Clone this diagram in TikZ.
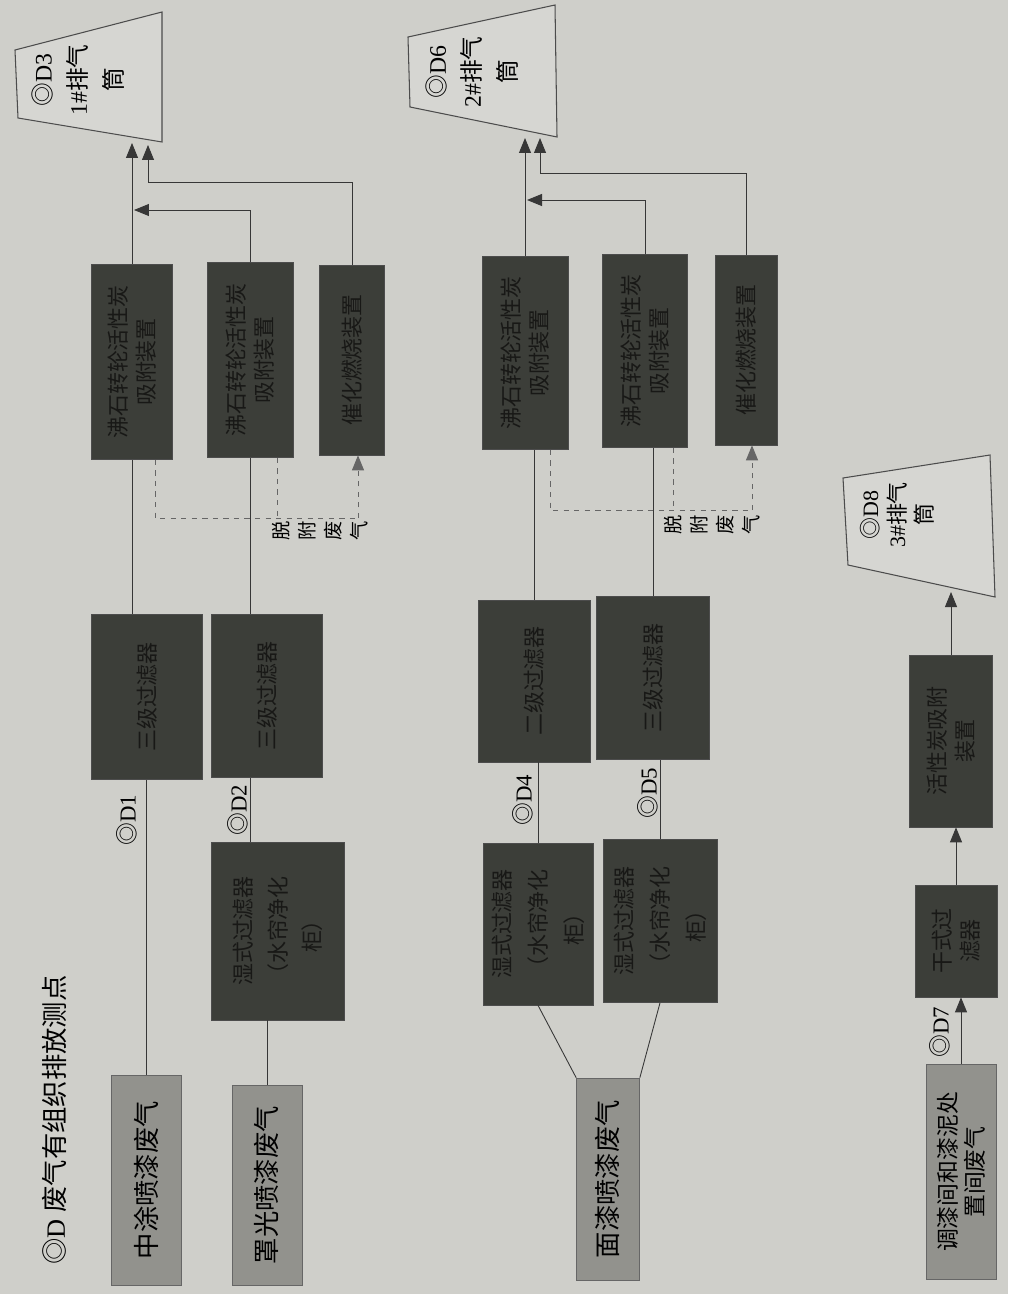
\documentclass[tikz,border=0pt]{standalone}
\usepackage{fontspec}
\setmainfont{Liberation Serif}
\newfontfamily\cjk{Noto Sans CJK SC}
\usetikzlibrary{arrows.meta}
\definecolor{paper}{RGB}{207,207,202}
\definecolor{stackfill}{RGB}{214,214,210}
\definecolor{srcgray}{RGB}{146,146,141}
\definecolor{unitdark}{RGB}{60,62,57}
\definecolor{unitink}{RGB}{24,24,22}
\definecolor{wire}{RGB}{55,55,55}
\newcommand{\mk}{{\cjk ◎}}

\begin{document}
\begin{tikzpicture}[x=0.02cm, y=-0.02cm,
  source/.style={rotate=90, draw=black!60, fill=srcgray, inner sep=0pt, align=center, font=\cjk\fontsize{15}{19}\selectfont},
  unit/.style={rotate=90, draw=black!70, fill=unitdark, text=unitink, inner sep=0pt, align=center, font=\cjk\fontsize{12.5}{16}\selectfont},
  ptlabel/.style={rotate=90, inner sep=1pt, font=\fontsize{13}{15}\selectfont},
  stacktext/.style={rotate=90, align=center, inner sep=0pt, font=\fontsize{13.5}{20}\selectfont},
  desorbtext/.style={rotate=90, align=center, inner sep=0pt, font=\cjk\fontsize{11}{14.8}\selectfont},
  flow/.style={draw=wire, line width=0.5pt},
  arr/.style={flow, -{Triangle[length=0.3cm,width=0.24cm]}},
  desorb/.style={draw=black!60, dashed, line width=0.5pt},
  stackline/.style={draw=black!70, line width=0.6pt, fill=stackfill}
]
\fill[paper] (0,0) rectangle (1008,1294);
\useasboundingbox (0,0) rectangle (1008,1294);

% legend
\node[rotate=90, font=\fontsize{15}{18}\selectfont] (legend) at (55,1120) {\mk D {\cjk 废气有组织排放测点}};

% waste gas sources
\node[source, minimum width=4.2cm, minimum height=1.4cm] (srcA) at (146,1180) {中涂喷漆废气};
\node[source, minimum width=4.0cm, minimum height=1.4cm] (srcB) at (267,1185) {罩光喷漆废气};
\node[source, minimum width=4.04cm, minimum height=1.26cm] (srcC) at (608,1179) {面漆喷漆废气};
\node[source, minimum width=4.3cm, minimum height=1.4cm, font=\cjk\fontsize{13}{15.5}\selectfont] (srcD) at (961,1172) {调漆间和漆泥处\\置间废气};

% wet filters
\node[unit, minimum width=3.56cm, minimum height=2.66cm, font=\cjk\fontsize{12.5}{19.5}\selectfont] (wetB) at (278,931) {湿式过滤器\\（水帘净化\\柜）};
\node[unit, minimum width=3.24cm, minimum height=2.2cm, font=\cjk\fontsize{12.5}{20.5}\selectfont] (wetC1) at (538,924) {湿式过滤器\\（水帘净化\\柜）};
\node[unit, minimum width=3.26cm, minimum height=2.28cm, font=\cjk\fontsize{12.5}{20.5}\selectfont] (wetC2) at (660,921) {湿式过滤器\\（水帘净化\\柜）};

% dry filters
\node[unit, minimum width=3.3cm, minimum height=2.22cm] (fltA) at (147,697) {三级过滤器};
\node[unit, minimum width=3.26cm, minimum height=2.22cm] (fltB) at (267,696) {三级过滤器};
\node[unit, minimum width=3.24cm, minimum height=2.24cm] (fltC1) at (534,681) {二级过滤器};
\node[unit, minimum width=3.26cm, minimum height=2.26cm] (fltC2) at (653,678) {三级过滤器};

% zeolite / catalytic units
\node[unit, minimum width=3.9cm, minimum height=1.62cm] (zeoA) at (132,362) {沸石转轮活性炭\\吸附装置};
\node[unit, minimum width=3.9cm, minimum height=1.72cm] (zeoB) at (250,360) {沸石转轮活性炭\\吸附装置};
\node[unit, minimum width=3.8cm, minimum height=1.3cm] (catA) at (352,360) {催化燃烧装置};
\node[unit, minimum width=3.86cm, minimum height=1.72cm] (zeoC1) at (525,353) {沸石转轮活性炭\\吸附装置};
\node[unit, minimum width=3.86cm, minimum height=1.7cm] (zeoC2) at (645,351) {沸石转轮活性炭\\吸附装置};
\node[unit, minimum width=3.8cm, minimum height=1.24cm] (catC) at (746,350) {催化燃烧装置};

% mixing room line
\node[unit, minimum width=2.24cm, minimum height=1.64cm] (dryD) at (956,941) {干式过\\滤器};
\node[unit, minimum width=3.44cm, minimum height=1.66cm] (acD) at (951,741) {活性炭吸附\\装置};

% stacks
\draw[stackline] (15,50) -- (162,12) -- (162,142) -- (18,118) -- cycle;
\node[stacktext] (stkA) at (78,80) {\mk D3\\1\#{\cjk 排气}\\{\cjk 筒}};
\draw[stackline] (408,37) -- (555,5) -- (557,137) -- (410,107) -- cycle;
\node[stacktext] (stkC) at (472,72) {\mk D6\\2\#{\cjk 排气}\\{\cjk 筒}};
\draw[stackline] (843,478) -- (990,455) -- (995,597) -- (848,565) -- cycle;
\node[stacktext, font=\fontsize{12.5}{15.5}\selectfont] (stkD) at (897,515) {\mk D8\\3\#{\cjk 排气}\\{\cjk 筒}};

\coordinate (inA1) at (132,143);
\coordinate (inA2) at (148,145);
\coordinate (joinA) at (134,210);
\coordinate (bendA) at (148,182);
\coordinate (inC1) at (525,138);
\coordinate (inC2) at (540,138);
\coordinate (joinC) at (527,200);
\coordinate (bendC) at (540,173);
\coordinate (inD) at (951,592);

% sampling points
\node[ptlabel] (ptD1) at (127,820) {\mk D1};
\node[ptlabel] (ptD2) at (238,810) {\mk D2};
\node[ptlabel] (ptD4) at (523,800) {\mk D4};
\node[ptlabel] (ptD5) at (648,793) {\mk D5};
\node[ptlabel] (ptD7) at (940,1032) {\mk D7};

% line A
\draw[flow] (srcA.east) -- (srcA.east |- fltA.west);
\draw[flow] (fltA.east -| zeoA) -- (zeoA.west);
\draw[arr] (zeoA.east) -- (inA1);
\draw[arr] (zeoB.east) |- (joinA);
\draw[arr] (catA.east) |- (bendA) -- (inA2);

% line B
\draw[flow] (srcB.east) -- (srcB.east |- wetB.west);
\draw[flow] (wetB.east -| zeoB) -- (fltB.west -| zeoB);
\draw[flow] (fltB.east -| zeoB) -- (zeoB.west);

% line C
\draw[flow] (srcC.north east) -- (wetC1.west);
\draw[flow] (srcC.south east) -- (wetC2.west);
\draw[flow] (wetC1.east) -- (wetC1.east |- fltC1.west);
\draw[flow] (fltC1.east) -- (fltC1.east |- zeoC1.west);
\draw[flow] (wetC2.east) -- (wetC2.east |- fltC2.west);
\draw[flow] (fltC2.east) -- (fltC2.east |- zeoC2.west);
\draw[arr] (zeoC1.east) -- (inC1);
\draw[arr] (zeoC2.east) |- (joinC);
\draw[arr] (catC.east) |- (bendC) -- (inC2);

% line D
\draw[arr] (srcD.east) -- (srcD.east |- dryD.west);
\draw[arr] (dryD.east) -- (dryD.east |- acD.west);
\draw[arr] (acD.east) -- (inD);

% desorption gas
\coordinate (dsA) at (358,518);
\draw[desorb] (zeoA.west) ++(23,0) |- (dsA);
\draw[desorb] (zeoB.west) ++(27,0) -- ++(0,60);
\draw[desorb, -{Triangle[length=0.3cm,width=0.24cm]}] (dsA) -- (dsA |- catA.west);
\node[desorbtext] (dsAtext) at (320,531) {脱\\附\\废\\气};

\coordinate (dsC) at (752,510);
\draw[desorb] (zeoC1.west) ++(25,0) |- (dsC);
\draw[desorb] (zeoC2.west) ++(28,0) -- ++(0,62);
\draw[desorb, -{Triangle[length=0.3cm,width=0.24cm]}] (dsC) -- (dsC |- catC.west);
\node[desorbtext] (dsCtext) at (712,525) {脱\\附\\废\\气};
\end{tikzpicture}
\end{document}
